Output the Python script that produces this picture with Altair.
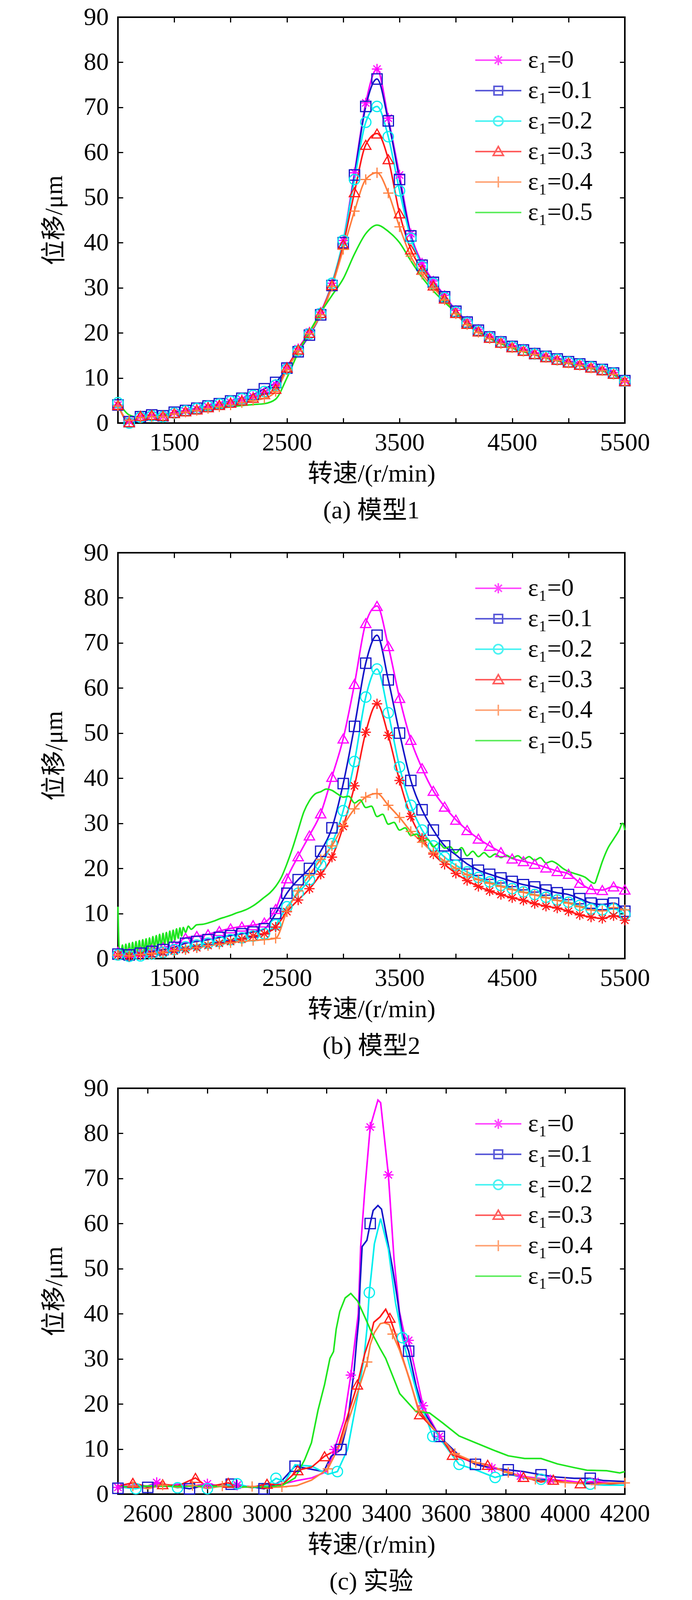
import altair as alt
import pandas as pd

FONT = "'Liberation Serif', 'Times New Roman', 'DejaVu Serif', 'Noto Sans CJK SC', serif"
FS = 64

LABELS = ["ε₁=0", "ε₁=0.1", "ε₁=0.2", "ε₁=0.3", "ε₁=0.4", "ε₁=0.5"]
COLORS = ["#ff00ff", "#1515c8", "#00eeee", "#ff1a1a", "#ff7f3f", "#1ee61e"]

# marker glyphs (MATLAB style: * s o ^ +)
STAR = "M-1,0H1M0,-1V1M-0.7,-0.7L0.7,0.7M-0.7,0.7L0.7,-0.7"
PLUS = "M-1,0H1M0,-1V1"
MARKER_KEYS = ["star", "square", "circle", "triangle", "plus"]
MARKER_SHAPES = [STAR, "square", "circle", "triangle-up", PLUS]

# legend symbols: line segment with the marker in the middle
LEGEND_SHAPES = [
    "M-2.95,0H2.95M-0.65,0H0.65M0,-0.65V0.65M-0.46,-0.46L0.46,0.46M-0.46,0.46L0.46,-0.46",
    "M-2.95,0H2.95M-0.55,-0.55H0.55V0.55H-0.55Z",
    "M-2.95,0H2.95M0.6,0A0.6,0.6,0,1,1,-0.6,0A0.6,0.6,0,1,1,0.6,0",
    "M-2.95,0H2.95M0,-0.65L0.65,0.5H-0.65Z",
    "M-2.95,0H2.95M0,-0.7V0.7",
    "M-2.95,0H2.95",
]

# ---- (a) model 1, speed grid 1000..5500 step 100
RPM_AB = list(range(1000, 5501, 100))
A_E0 = [4.0, 0.4, 1.5, 1.7, 1.5, 2.3, 2.7, 3.1, 3.6, 4.1, 4.6, 5.2, 5.9, 6.8, 8.6, 12.4,
        16.5, 20.2, 24.6, 31.0, 40.5, 55.5, 71.0, 78.5, 67.6, 55.0, 42.0, 35.5, 31.5, 28.3,
        25.0, 22.6, 20.8, 19.3, 18.2, 17.2, 16.4, 15.6, 14.9, 14.3, 13.7, 13.2, 12.6, 12.0,
        11.2, 9.4]
A_E1 = [4.0, 0.3, 1.4, 1.8, 1.6, 2.4, 2.8, 3.3, 3.8, 4.3, 4.9, 5.5, 6.3, 7.6, 9.0, 12.2,
        15.8, 19.5, 24.0, 30.5, 40.0, 55.0, 70.2, 76.3, 67.0, 54.0, 41.5, 35.0, 31.2, 28.0,
        24.8, 22.4, 20.6, 19.1, 18.0, 17.0, 16.2, 15.4, 14.8, 14.2, 13.6, 13.1, 12.5, 11.9,
        11.1, 9.4]
A_E2 = [4.5, 0.0, 1.3, 1.6, 1.4, 2.2, 2.7, 3.2, 3.7, 4.2, 4.8, 5.4, 6.1, 7.0, 8.4, 12.0,
        16.0, 19.8, 24.3, 31.0, 40.5, 54.0, 66.7, 70.2, 63.5, 51.5, 41.0, 34.8, 31.0, 27.8,
        24.6, 22.2, 20.4, 19.0, 17.9, 16.9, 16.1, 15.3, 14.7, 14.1, 13.5, 13.0, 12.4, 11.8,
        11.0, 9.3]
A_E3 = [4.0, 0.2, 1.6, 1.8, 1.6, 2.2, 2.6, 3.0, 3.5, 4.0, 4.5, 5.0, 5.6, 6.4, 7.6, 12.3,
        16.3, 20.0, 24.4, 30.6, 39.6, 51.2, 61.7, 64.2, 58.5, 46.5, 38.5, 34.0, 30.5, 27.6,
        24.4, 22.0, 20.3, 18.9, 17.8, 16.8, 16.0, 15.3, 14.6, 14.0, 13.4, 12.9, 12.3, 11.7,
        10.9, 9.3]
A_E4 = [3.8, 0.6, 1.2, 1.4, 1.4, 2.0, 2.4, 2.8, 3.2, 3.6, 4.0, 4.5, 5.0, 5.5, 7.0, 11.8,
        16.0, 19.8, 24.0, 30.3, 38.5, 47.0, 54.0, 55.5, 51.0, 43.5, 37.0, 33.0, 30.0, 27.3,
        24.2, 21.8, 20.1, 18.7, 17.6, 16.7, 15.9, 15.2, 14.5, 13.9, 13.3, 12.8, 12.2, 11.6,
        10.8, 9.2]
A_E5 = [5.0, 1.8, 1.2, 1.5, 1.8, 2.0, 2.3, 2.7, 3.0, 3.3, 3.6, 3.9, 4.1, 4.3, 5.3, 10.0,
        15.6, 20.2, 24.5, 28.3, 32.0, 37.5, 42.0, 43.9, 42.5, 40.0, 36.0, 32.3, 29.3, 26.8,
        24.5, 22.2, 20.3, 18.8, 17.6, 16.6, 15.8, 15.1, 14.4, 13.8, 13.2, 12.7, 12.1, 11.5,
        10.7, 9.0]

# ---- (b) model 2
B_E0 = [1.5, 1.2, 1.5, 2.0, 2.5, 3.0, 4.6, 5.0, 5.4, 6.1, 6.7, 7.1, 7.4, 8.0, 11.0, 17.8,
        22.7, 27.3, 32.2, 40.3, 48.8, 60.9, 74.4, 78.2, 69.3, 57.8, 48.5, 42.2, 37.2, 33.7,
        30.8, 28.5, 26.6, 25.0, 23.6, 22.2, 21.6, 21.0, 20.2, 19.4, 18.8, 16.8, 15.4, 15.2,
        16.0, 15.3]
B_E1 = [1.0, 0.8, 1.2, 1.6, 2.0, 2.5, 3.4, 3.8, 4.2, 4.7, 5.1, 5.5, 5.9, 6.6, 10.0, 14.5,
        17.5, 20.0, 23.8, 29.0, 38.8, 51.5, 65.5, 71.7, 61.8, 50.0, 39.5, 33.0, 28.5, 25.0,
        23.0, 21.0, 19.6, 18.7, 17.9, 17.1, 16.4, 15.9, 15.2, 14.6, 14.2, 13.3, 12.3, 12.0,
        12.3, 10.5]
B_E2 = [0.8, 0.5, 0.6, 1.0, 1.4, 2.0, 2.6, 3.0, 3.4, 3.8, 4.2, 4.6, 5.0, 5.5, 7.5, 11.5,
        14.5, 17.5, 20.8, 25.5, 32.8, 43.7, 58.0, 64.2, 54.5, 42.5, 34.0, 28.5, 25.0, 22.5,
        20.7, 19.2, 18.0, 17.0, 16.2, 15.5, 14.8, 14.2, 13.6, 13.0, 12.5, 11.8, 11.0, 10.8,
        11.0, 9.8]
B_E3 = [0.8, 0.5, 0.8, 1.0, 1.3, 1.7, 2.0, 2.4, 2.9, 3.4, 3.8, 4.3, 5.0, 5.5, 7.0, 10.4,
        13.0, 15.5, 18.7, 22.5, 29.3, 38.3, 50.2, 56.5, 49.5, 39.5, 31.5, 26.7, 23.2, 20.9,
        18.9, 17.3, 16.0, 15.0, 14.2, 13.5, 12.9, 12.2, 11.6, 11.2, 10.5, 9.7, 9.2, 8.9,
        9.5, 8.5]
B_E4 = [0.8, 0.6, 0.9, 1.1, 1.4, 1.8, 2.1, 2.5, 2.9, 3.2, 3.5, 3.8, 4.0, 4.2, 4.5, 10.5,
        15.0, 18.5, 22.0, 25.0, 29.5, 33.2, 35.8, 36.6, 34.0, 31.3, 28.2, 25.8, 23.5, 21.6,
        20.0, 18.6, 17.5, 16.7, 16.0, 15.3, 14.7, 14.1, 13.5, 12.9, 12.3, 11.5, 10.8, 10.6,
        11.3, 10.8]
B_X5 = ([1000, 1010] + list(range(1025, 1581, 15)) + [1600, 1625, 1650]
        + list(range(1700, 5201, 50)) + [5230, 5260, 5300, 5350, 5400, 5450, 5480, 5500])
B_E5 = [11.5, 2.5, 0.8, 3.0, 0.5, 3.2, 0.8, 3.4, 0.6, 3.6,
        1.0, 3.8, 1.2, 4.0, 1.0, 4.2, 1.6, 4.4, 1.5, 4.6,
        2.0, 4.9, 2.2, 5.1, 2.5, 5.4, 2.6, 5.6, 3.0, 5.8,
        3.2, 6.1, 3.6, 6.3, 4.0, 6.6, 4.5, 6.8, 5.0, 6.9,
        5.8, 7.2, 6.5,
        7.5, 7.6, 7.9, 8.3, 8.8, 9.2, 9.6, 10.1, 10.5, 11.0,
        11.7, 12.6, 13.6, 14.6, 16.0, 18.0, 21.0, 24.5, 28.5, 32.5,
        35.0, 36.5, 37.0, 37.6, 37.3, 36.5, 35.8, 36.0, 34.5, 35.2,
        33.5, 33.8, 31.5, 32.0, 29.8, 30.2, 28.5, 29.0, 27.3, 27.6,
        26.0, 26.4, 24.8, 25.6, 24.5, 24.8, 23.4, 24.6, 22.8, 23.8,
        22.6, 23.5, 22.5, 23.2, 22.4, 22.9, 22.3, 22.8, 22.0, 22.6,
        21.8, 22.4, 21.2, 21.6, 21.0, 20.0, 19.3, 18.9, 18.5, 18.0,
        17.0,
        16.7, 18.5, 21.5, 24.5, 26.5, 28.5, 30.0, 28.5]

# ---- (c) experiment
C_X0 = [2500, 2550, 2600, 2630, 2660, 2700, 2750, 2800, 2850, 2900, 2950, 3000, 3050, 3100,
        3150, 3200, 3226, 3258, 3281, 3306, 3314, 3328, 3346, 3372, 3381, 3407, 3426, 3444,
        3463, 3475, 3523, 3578, 3644, 3700, 3754, 3800, 3850, 3900, 3950, 4000, 4050, 4100,
        4150, 4200]
C_E0 = [1.5, 2.0, 1.8, 2.6, 1.8, 2.2, 1.8, 2.3, 1.7, 2.0, 1.6, 2.0, 2.2, 3.0,
        3.6, 5.0, 9.9, 16.4, 26.4, 40.0, 54.8, 67.5, 81.4, 87.4, 86.8, 70.8, 52.1, 40.5,
        34.7, 34.1, 19.6, 12.8, 8.2, 6.8, 5.8, 5.2, 4.0, 3.6, 3.2, 3.0, 2.6, 2.8,
        2.5, 2.4]
C_M0 = [2500, 2630, 2800, 2900, 3226, 3281, 3346, 3407, 3475, 3523, 3578, 3754, 3850, 3950, 4100]

C_X1 = [2500, 2550, 2600, 2650, 2700, 2740, 2800, 2850, 2880, 2920, 2950, 2990, 3020, 3050,
        3094, 3150, 3190, 3215, 3248, 3270, 3292, 3300, 3308, 3312, 3319, 3335, 3346, 3356,
        3372, 3384, 3407, 3421, 3435, 3454, 3475, 3500, 3523, 3578, 3644, 3699, 3750, 3809,
        3860, 3919, 3970, 4030, 4084, 4130, 4200]
C_E1 = [1.3, 1.8, 1.5, 2.0, 1.6, 1.2, 2.0, 1.8, 2.2, 1.8, 1.6, 1.2, 1.9, 3.0,
        6.2, 5.5, 5.0, 8.4, 9.9, 15.8, 27.3, 33.5, 38.8, 46.3, 54.9, 56.3, 60.0, 62.9,
        64.0, 63.2, 55.1, 50.1, 44.3, 35.5, 31.7, 24.0, 18.6, 12.8, 8.6, 6.6, 5.8, 5.4,
        5.0, 4.3, 3.8, 3.5, 3.5, 3.0, 2.8]
C_M1 = [2500, 2600, 2740, 2880, 2990, 3094, 3248, 3346, 3475, 3578, 3699, 3809, 3919, 4084]

C_X2 = [2500, 2560, 2600, 2650, 2700, 2750, 2800, 2850, 2900, 2950, 3000, 3030, 3060, 3094,
        3150, 3204, 3236, 3270, 3303, 3325, 3335, 3343, 3351, 3360, 3381, 3407, 3431, 3454,
        3480, 3510, 3534, 3556, 3589, 3644, 3699, 3765, 3809, 3860, 3919, 3970, 4030, 4084,
        4130, 4200]
C_E2 = [1.6, 1.2, 1.8, 2.2, 1.4, 2.0, 1.2, 1.9, 2.3, 1.4, 2.0, 3.5, 2.8, 6.5,
        6.2, 4.4, 5.0, 9.9, 21.5, 30.1, 36.6, 44.7, 49.7, 55.5, 61.1, 54.3, 42.4, 34.7,
        28.0, 20.5, 16.8, 12.8, 11.5, 6.6, 5.4, 3.7, 4.5, 3.6, 3.3, 2.8, 2.5, 2.2,
        2.0, 2.0]
C_M2 = [2560, 2700, 2800, 2900, 3030, 3236, 3343, 3454, 3556, 3644, 3765, 3919, 4084]

C_X3 = [2500, 2550, 2600, 2650, 2700, 2760, 2800, 2870, 2900, 2950, 3000, 3050, 3103, 3150,
        3193, 3236, 3270, 3303, 3328, 3336, 3346, 3358, 3379, 3398, 3412, 3435, 3450, 3480,
        3512, 3578, 3622, 3699, 3740, 3809, 3860, 3919, 3960, 4000, 4051, 4100, 4150, 4200]
C_E3 = [1.8, 2.5, 1.6, 2.2, 1.8, 3.6, 1.6, 2.5, 1.7, 1.5, 2.3, 2.0, 5.3, 6.0,
        8.4, 9.9, 17.3, 24.3, 31.2, 32.8, 34.7, 38.1, 39.3, 41.0, 39.1, 34.7, 31.2, 25.0,
        17.7, 13.1, 8.7, 7.0, 6.5, 4.7, 3.8, 2.7, 3.2, 2.6, 2.4, 2.5, 2.3, 2.5]
C_M3 = [2550, 2650, 2760, 2870, 3000, 3103, 3193, 3303, 3412, 3512, 3622, 3740, 3860, 3960, 4051]

C_X4 = [2500, 2550, 2600, 2650, 2700, 2750, 2800, 2850, 2900, 2950, 3000, 3050, 3100, 3149,
        3204, 3248, 3292, 3336, 3346, 3360, 3380, 3393, 3410, 3421, 3444, 3470, 3510, 3578,
        3630, 3700, 3760, 3809, 3850, 3900, 3950, 4000, 4050, 4100, 4150, 4200]
C_E4 = [1.4, 1.8, 1.2, 2.0, 1.5, 1.9, 1.3, 1.8, 1.4, 1.7, 1.5, 1.6, 1.9, 3.1,
        5.6, 11.4, 20.1, 29.3, 33.1, 35.8, 37.8, 38.0, 37.6, 35.5, 32.0, 27.0, 18.5, 13.0,
        9.0, 7.0, 6.0, 4.8, 4.0, 3.3, 2.8, 2.6, 2.4, 2.2, 2.5, 2.5]
C_M4 = [2550, 2650, 2750, 2850, 2950, 3050, 3204, 3336, 3421, 3510, 3630, 3700, 3809, 3900,
        4000, 4100, 4200]

C_X5 = [2500, 2600, 2700, 2800, 2900, 3000, 3050, 3094, 3126, 3149, 3171, 3193, 3211, 3223,
        3232, 3244, 3262, 3281, 3304, 3328, 3351, 3379, 3398, 3445, 3500, 3545, 3589, 3644,
        3699, 3754, 3809, 3864, 3919, 3974, 4029, 4073, 4139, 4183, 4200]
C_E5 = [1.6, 1.8, 1.7, 1.8, 1.6, 1.6, 1.9, 3.6, 7.6, 11.4, 18.6, 24.3, 30.1, 31.6,
        36.6, 40.5, 43.5, 44.5, 42.8, 39.3, 35.8, 32.3, 30.1, 22.3, 18.3, 18.0, 15.8, 12.9,
        11.4, 9.9, 8.5, 7.9, 7.9, 6.7, 5.9, 5.3, 5.2, 4.7, 5.0]

MARKERS_AC = ["star", "square", "circle", "triangle", "plus", None]
MARKERS_B = ["triangle", "square", "circle", "star", "plus", None]


def frame(xs, ys, markers, marked):
    rows = []
    for label, x, y, m, mk in zip(LABELS, xs, ys, markers, marked):
        for xi, yi in zip(x, y):
            rows.append({"series": label, "rpm": xi, "val": yi, "marker": m,
                         "mark": m is not None and (mk is None or xi in mk)})
    return pd.DataFrame(rows)


df_a = frame([RPM_AB] * 6, [A_E0, A_E1, A_E2, A_E3, A_E4, A_E5], MARKERS_AC, [None] * 6)
df_b = frame([RPM_AB] * 5 + [B_X5], [B_E0, B_E1, B_E2, B_E3, B_E4, B_E5], MARKERS_B, [None] * 6)
df_c = frame([C_X0, C_X1, C_X2, C_X3, C_X4, C_X5], [C_E0, C_E1, C_E2, C_E3, C_E4, C_E5],
             MARKERS_AC, [C_M0, C_M1, C_M2, C_M3, C_M4, None])

TICKS = dict(tickSize=13, tickWidth=3, tickColor="black", offset=-13, domain=False, grid=False)
TEXT = dict(labelFont=FONT, labelFontSize=FS, labelColor="black", labelFlush=False,
            labelOverlap=False, titleFont=FONT, titleFontSize=FS, titleFontWeight="normal",
            titleColor="black")


def panel(df, x_domain, x_values, label_expr, interp, caption, legend_y):
    xs = alt.Scale(domain=x_domain, nice=False, zero=False)
    ys = alt.Scale(domain=[0, 90], nice=False)
    cs = alt.Scale(domain=LABELS, range=COLORS)
    extra = {"labelExpr": label_expr} if label_expr else {}
    x_bottom = alt.Axis(orient="bottom", values=x_values, format="d", labelPadding=18,
                        title="转速/(r/min)", titlePadding=16, **extra, **TICKS, **TEXT)
    y_left = alt.Axis(orient="left", values=list(range(0, 91, 10)), format="d", labelPadding=24,
                      title="位移/μm", titlePadding=43, **TICKS, **TEXT)
    x_top = alt.Axis(orient="top", values=x_values, labels=False, title=None, **TICKS)
    y_right = alt.Axis(orient="right", values=list(range(0, 91, 10)), labels=False, title=None, **TICKS)

    lines = alt.Chart(df).mark_line(strokeWidth=4, interpolate=interp).encode(
        x=alt.X("rpm:Q", scale=xs, axis=x_bottom),
        y=alt.Y("val:Q", scale=ys, axis=y_left),
        color=alt.Color("series:N", scale=cs, legend=None),
    )
    points = alt.Chart(df).transform_filter("datum.mark").mark_point(
        filled=False, size=700, strokeWidth=3, opacity=1
    ).encode(
        x=alt.X("rpm:Q", scale=xs, axis=x_top),
        y=alt.Y("val:Q", scale=ys, axis=y_right),
        color=alt.Color("series:N", scale=cs, legend=None),
        shape=alt.Shape("marker:N", scale=alt.Scale(domain=MARKER_KEYS, range=MARKER_SHAPES),
                        legend=None),
    )
    leg = alt.Legend(orient="none", legendX=942, legendY=legend_y, title=None, padding=0,
                     labelFont=FONT, labelFontSize=FS, labelColor="black", labelLimit=0,
                     labelOffset=44, rowPadding=14, symbolSize=1600, symbolStrokeWidth=4)
    key = alt.Chart(df).transform_filter("false").mark_point(filled=False).encode(
        color=alt.Color("series:N", scale=alt.Scale(domain=LABELS, range=COLORS), legend=leg),
        shape=alt.Shape("series:N", scale=alt.Scale(domain=LABELS, range=LEGEND_SHAPES), legend=leg),
    )
    return alt.layer(lines, points, key).resolve_scale(
        color="independent", shape="independent"
    ).resolve_axis(x="independent", y="independent").properties(
        width=1298, height=1039,
        title=alt.TitleParams(caption, orient="bottom", anchor="middle", frame="group",
                              font=FONT, fontSize=FS, fontWeight="normal", color="black", offset=31),
    )


AB_TICKS = list(range(1500, 5501, 500))
C_TICKS = list(range(2600, 4201, 200))

chart_a = panel(df_a, [1000, 5500], AB_TICKS, "datum.value % 1000 == 500 ? datum.label : ''",
                "monotone", "(a) 模型1", 78)
chart_b = panel(df_b, [1000, 5500], AB_TICKS, "datum.value % 1000 == 500 ? datum.label : ''",
                "monotone", "(b) 模型2", 59)
chart_c = panel(df_c, [2500, 4200], C_TICKS, None, "linear", "(c) 实验", 59)

chart = alt.vconcat(chart_a, chart_b, chart_c, spacing=39).resolve_scale(
    color="independent", shape="independent"
).properties(
    padding={"left": 97, "top": 2, "right": 40, "bottom": 0},
    background="#ffffff",
).configure_view(stroke="black", strokeWidth=4)

chart.save("out.html", embed_options={"renderer": "svg", "actions": False})
